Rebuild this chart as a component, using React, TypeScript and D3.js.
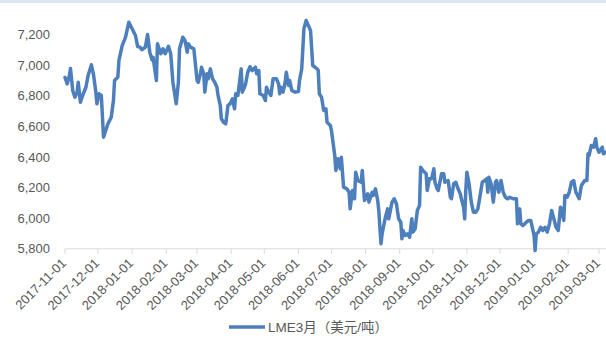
import React from "react";
import * as d3 from "d3";

// LME 3-month price, USD per tonne
const dates: string[] = [
  "2017-11-01","2017-11-03","2017-11-05","2017-11-06","2017-11-08","2017-11-10","2017-11-12","2017-11-13","2017-11-15","2017-11-17",
  "2017-11-20","2017-11-22","2017-11-25","2017-11-27","2017-11-29","2017-11-30","2017-12-02","2017-12-04","2017-12-06","2017-12-10",
  "2017-12-13","2017-12-15","2017-12-16","2017-12-19","2017-12-20","2017-12-23","2017-12-26","2017-12-29","2018-01-01","2018-01-04",
  "2018-01-06","2018-01-08","2018-01-10","2018-01-13","2018-01-15","2018-01-17","2018-01-19","2018-01-20","2018-01-23","2018-01-24",
  "2018-01-27","2018-01-29","2018-01-31","2018-02-03","2018-02-05","2018-02-07","2018-02-10","2018-02-12","2018-02-13","2018-02-16",
  "2018-02-18","2018-02-20","2018-02-21","2018-02-23","2018-02-26","2018-03-01","2018-03-02","2018-03-04","2018-03-05","2018-03-07",
  "2018-03-08","2018-03-10","2018-03-11","2018-03-13","2018-03-15","2018-03-17","2018-03-19","2018-03-20","2018-03-22","2018-03-23",
  "2018-03-25","2018-03-27","2018-03-29","2018-03-31","2018-04-02","2018-04-04","2018-04-05","2018-04-07","2018-04-10","2018-04-11",
  "2018-04-13","2018-04-14","2018-04-16","2018-04-18","2018-04-20","2018-04-23","2018-04-24","2018-04-26","2018-04-27","2018-04-30",
  "2018-05-02","2018-05-03","2018-05-05","2018-05-07","2018-05-09","2018-05-12","2018-05-14","2018-05-15","2018-05-16","2018-05-18",
  "2018-05-20","2018-05-21","2018-05-23","2018-05-24","2018-05-26","2018-05-29","2018-06-01","2018-06-02","2018-06-04","2018-06-06",
  "2018-06-08","2018-06-10","2018-06-12","2018-06-14","2018-06-18","2018-06-19","2018-06-20","2018-06-22","2018-06-24","2018-06-26",
  "2018-06-27","2018-06-30","2018-07-01","2018-07-04","2018-07-05","2018-07-07","2018-07-09","2018-07-10","2018-07-12","2018-07-15",
  "2018-07-17","2018-07-18","2018-07-20","2018-07-22","2018-07-23","2018-07-25","2018-07-28","2018-07-29","2018-07-31","2018-08-03",
  "2018-08-04","2018-08-07","2018-08-08","2018-08-10","2018-08-12","2018-08-13","2018-08-15","2018-08-16","2018-08-19","2018-08-21",
  "2018-08-22","2018-08-25","2018-08-27","2018-08-29","2018-08-31","2018-09-02","2018-09-03","2018-09-04","2018-09-06","2018-09-08",
  "2018-09-10","2018-09-12","2018-09-13","2018-09-15","2018-09-17","2018-09-19","2018-09-20","2018-09-22","2018-09-25","2018-09-26",
  "2018-09-28","2018-09-30","2018-10-02","2018-10-03","2018-10-05","2018-10-06","2018-10-09","2018-10-11","2018-10-12","2018-10-15",
  "2018-10-17","2018-10-18","2018-10-20","2018-10-22","2018-10-24","2018-10-26","2018-10-27","2018-10-29","2018-10-30","2018-10-31",
  "2018-11-01","2018-11-03","2018-11-05","2018-11-07","2018-11-09","2018-11-11","2018-11-13","2018-11-15","2018-11-17","2018-11-19",
  "2018-11-20","2018-11-21","2018-11-23","2018-11-25","2018-11-27","2018-11-28","2018-11-30","2018-12-02","2018-12-04","2018-12-06",
  "2018-12-08","2018-12-10","2018-12-13","2018-12-16","2018-12-17","2018-12-19","2018-12-20","2018-12-22","2018-12-25","2018-12-27",
  "2018-12-29","2018-12-31","2019-01-01","2019-01-02","2019-01-03","2019-01-05","2019-01-07","2019-01-09","2019-01-11","2019-01-13",
  "2019-01-15","2019-01-17","2019-01-19","2019-01-21","2019-01-23","2019-01-25","2019-01-26","2019-01-28","2019-01-29","2019-01-31",
  "2019-02-02","2019-02-04","2019-02-06","2019-02-08","2019-02-11","2019-02-13","2019-02-16","2019-02-18","2019-02-19","2019-02-20",
  "2019-02-22","2019-02-24","2019-02-26","2019-02-27","2019-03-01","2019-03-04","2019-03-05","2019-03-07",
];

const prices: number[] = [
  6920,6878,6933,6978,6835,6791,6824,6889,6758,6802,
  6856,6933,7003,6933,6824,6748,6813,6802,6529,6617,
  6660,6769,6900,6922,7031,7129,7183,7281,7238,7194,
  7122,7118,7101,7118,7201,7085,7035,7052,6900,7140,
  7075,7107,7075,7124,7075,6889,6748,6889,7107,7183,
  7161,7085,7140,7118,7107,6900,6889,6944,6987,6944,
  6824,6944,6911,6976,6911,6889,6856,6802,6737,6650,
  6627,6617,6737,6748,6780,6715,6813,6802,6976,6824,
  6856,6878,6954,6990,6965,6987,6944,6965,6813,6802,
  6769,6856,6824,6802,6911,6911,6878,6813,6856,6824,
  6889,6954,6867,6900,6835,6824,6828,6900,6976,7238,
  7292,7259,7227,6998,6976,6965,6813,6791,6704,6715,
  6627,6606,6573,6410,6312,6388,6323,6399,6203,6192,
  6170,6061,6181,6127,6301,6246,6236,6312,6116,6159,
  6105,6170,6148,6192,6116,6050,5833,5898,6007,6061,
  5996,6105,6127,6094,5996,5974,5865,5920,5887,5898,
  5876,5996,5909,5931,6050,6083,6333,6312,6290,6181,
  6258,6258,6323,6235,6192,6181,6290,6290,6235,6246,
  6137,6127,6225,6235,6192,6159,6127,6072,5996,6181,
  6301,6225,6105,6039,6039,6061,6148,6235,6246,6258,
  6170,6268,6225,6105,6235,6246,6170,6246,6170,6137,
  6127,6137,6127,6127,5963,6061,5963,5952,5974,5985,
  5985,5920,5887,5789,5898,5909,5941,5920,5941,5909,
  5963,6050,5996,5941,5920,6072,6061,5985,6148,6137,
  6170,6235,6246,6170,6127,6214,6246,6246,6421,6410,
  6475,6464,6519,6464,6431,6464,6421,6431,
];

const monthTicks: string[] = [
  "2017-11-01","2017-12-01","2018-01-01","2018-02-01","2018-03-01","2018-04-01",
  "2018-05-01","2018-06-01","2018-07-01","2018-08-01","2018-09-01","2018-10-01",
  "2018-11-01","2018-12-01","2019-01-01","2019-02-01","2019-03-01",
];

const yTicks: number[] = [5800, 6000, 6200, 6400, 6600, 6800, 7000, 7200];
const seriesName = "LME3月（美元/吨）";

const W = 606;
const H = 344;
const FONT = "'Liberation Sans', Arial, 'Noto Sans CJK SC', sans-serif";
const TEXT = "#595959";
const AXIS = "#d9d9d9";
const LINE = "#4e7fbd";

export default function App() {
  const parse = d3.utcParse("%Y-%m-%d");
  const pts = dates.map((d, i) => ({ date: parse(d) as Date, value: prices[i] }));

  const x = d3
    .scaleUtc()
    .domain([parse(monthTicks[0]) as Date, parse(monthTicks[monthTicks.length - 1]) as Date])
    .range([65, 599]);
  const y = d3.scaleLinear().domain([5800, 7400]).range([248.8, 4]);

  const line = d3
    .line<{ date: Date; value: number }>()
    .x((d) => x(d.date))
    .y((d) => y(d.value));

  const axisY = y(5800);

  return (
    <svg
      width={W}
      height={H}
      viewBox={`0 0 ${W} ${H}`}
      style={{ position: "absolute", left: 0, top: 0, background: "#fff" }}
    >
      <rect x={0} y={0} width={W} height={3} fill="#dde7f3" />

      {/* value axis labels */}
      {yTicks.map((t) => (
        <text
          key={t}
          x={50}
          y={y(t)}
          dy="0.35em"
          textAnchor="end"
          fontFamily={FONT}
          fontSize={13}
          fill={TEXT}
        >
          {d3.format(",")(t)}
        </text>
      ))}

      {/* date axis */}
      <line x1={65} x2={W} y1={axisY} y2={axisY} stroke={AXIS} strokeWidth={1} />
      {monthTicks.map((t) => {
        const tx = x(parse(t) as Date);
        return (
          <g key={t}>
            <line x1={tx} x2={tx} y1={axisY} y2={axisY + 5} stroke={AXIS} strokeWidth={1} />
            <text
              transform={`translate(${tx + 2},${axisY + 15}) rotate(-45)`}
              textAnchor="end"
              fontFamily={FONT}
              fontSize={13}
              fill={TEXT}
            >
              {t}
            </text>
          </g>
        );
      })}

      {/* price series */}
      <path
        d={line(pts) || ""}
        fill="none"
        stroke={LINE}
        strokeWidth={3.5}
        strokeLinejoin="round"
        strokeLinecap="round"
      />

      {/* legend */}
      <line x1={229} x2={265} y1={327} y2={327} stroke={LINE} strokeWidth={3.5} />
      <text x={268} y={327} dy="0.35em" fontFamily={FONT} fontSize={13.5} fill={TEXT}>
        {seriesName}
      </text>
    </svg>
  );
}
